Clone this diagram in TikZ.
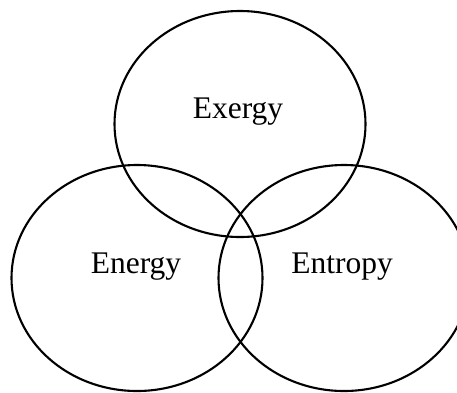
\documentclass[tikz,border=0pt]{standalone}
\usepackage{fontspec}
\setmainfont{Liberation Serif}
\usetikzlibrary{shapes.geometric,calc}

\begin{document}
\begin{tikzpicture}[
    x=1pt, y=-1pt,
    % the three overlapping sets
    set/.style={draw, ellipse, line width=2.1pt, inner sep=0pt,
                minimum width=251pt, minimum height=226pt},
    % set names
    setname/.style={anchor=base, inner sep=0pt, font=\fontsize{31.5}{36}\selectfont}
  ]
  \useasboundingbox (0,0) rectangle (457,392);
  \clip (0,0) rectangle (457,392);

  % ===================== sets =====================
  \node[set] (exergy)  at (240,124) {};
  \node[set] (energy)  at (137,278) {};
  \node[set] (entropy) at (344,278) {};

  % ===================== names =====================
  \node[setname] (exergyname)  at ($(exergy.center)+(-2,-6)$)  {Exergy};
  \node[setname] (energyname)  at ($(energy.center)+(-1,-5)$)  {Energy};
  \node[setname] (entropyname) at ($(entropy.center)+(-2,-5)$) {Entropy};
\end{tikzpicture}
\end{document}
